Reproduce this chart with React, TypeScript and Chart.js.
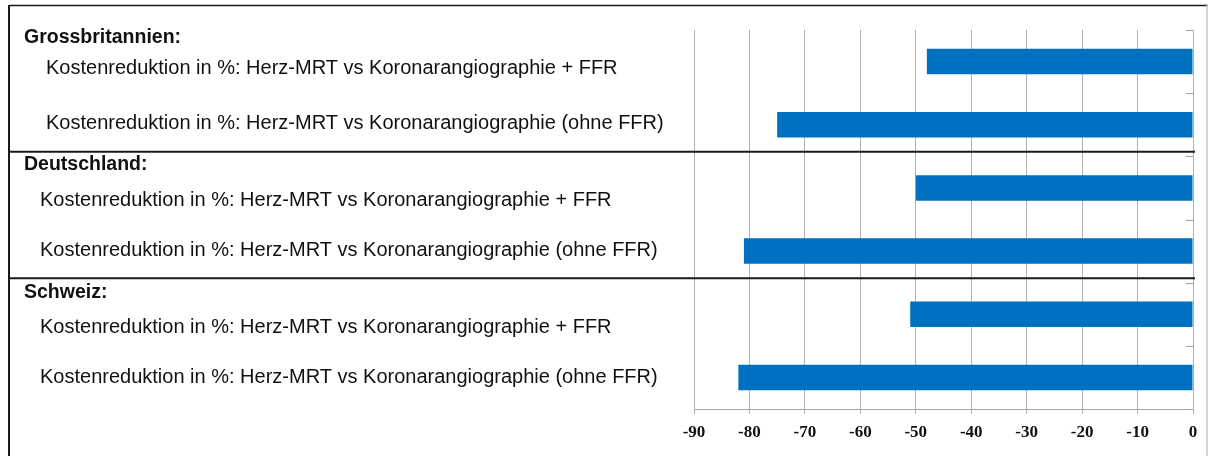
import React, { useEffect, useRef } from 'react';
import { Chart, registerables } from 'chart.js';

Chart.register(...registerables);

// ---- data ----
const groupTitles = ['Grossbritannien:', 'Deutschland:', 'Schweiz:'];
const categories = [
  'Kostenreduktion in %: Herz-MRT vs Koronarangiographie + FFR',
  'Kostenreduktion in %: Herz-MRT vs Koronarangiographie (ohne FFR)',
  'Kostenreduktion in %: Herz-MRT vs Koronarangiographie + FFR',
  'Kostenreduktion in %: Herz-MRT vs Koronarangiographie (ohne FFR)',
  'Kostenreduktion in %: Herz-MRT vs Koronarangiographie + FFR',
  'Kostenreduktion in %: Herz-MRT vs Koronarangiographie (ohne FFR)',
];
const values = [-48, -75, -50, -81, -51, -82];
const xMin = -90;
const xMax = 0;
const xStep = 10;

// ---- styling / layout ----
const W = 1210;
const H = 456;
const BAR_COLOR = '#0070C0';
const GRID_COLOR = '#b0b0b0';
const TEXT_FONT = '"Liberation Sans", Arial, sans-serif';
const TITLE_SIZE = 19.5;
const LABEL_SIZE = 20;
const titleOffsets = [-25.5, -25, -23];
const labelOffsets = [
  [5.5, -2.5],
  [11, -2],
  [12, -2],
];
const labelIndent = [46, 40, 40];

const tablePlugin = {
  id: 'tableLayout',
  afterDraw(chart: any) {
    const ctx = chart.ctx as CanvasRenderingContext2D;
    const yScale = chart.scales.y;
    const area = chart.chartArea;
    const n = categories.length;
    const band = (area.bottom - area.top) / n;
    const line = (x1: number, y1: number, x2: number, y2: number) => {
      ctx.beginPath();
      ctx.moveTo(x1, y1);
      ctx.lineTo(x2, y2);
      ctx.stroke();
    };
    ctx.save();
    // category tick marks on the right (inside)
    ctx.strokeStyle = '#a0a0a0';
    ctx.lineWidth = 1;
    for (let i = 0; i <= n; i++) {
      const yy = Math.round(area.top + i * band) + 0.5;
      line(area.right - 7, yy, area.right, yy);
    }
    // outer frame
    ctx.strokeStyle = '#1a1a1a';
    ctx.lineWidth = 2;
    line(9, 5, 9, H);
    ctx.lineWidth = 1.5;
    line(9, 5.5, W - 2, 5.5);
    ctx.strokeStyle = '#c8c8c8';
    ctx.lineWidth = 1.5;
    line(W - 3, 5, W - 3, H);
    // group dividers
    ctx.strokeStyle = '#1a1a1a';
    ctx.lineWidth = 2;
    for (let g = 1; g < groupTitles.length; g++) {
      const yy = area.top + g * 2 * band - 4.5;
      line(9, yy, area.right + 2, yy);
    }
    // texts
    ctx.fillStyle = '#111111';
    ctx.textAlign = 'left';
    ctx.textBaseline = 'alphabetic';
    for (let g = 0; g < groupTitles.length; g++) {
      const first = yScale.getPixelForValue(g * 2);
      ctx.font = `bold ${TITLE_SIZE}px ${TEXT_FONT}`;
      ctx.fillText(groupTitles[g], 24, first + titleOffsets[g] + TITLE_SIZE * 0.358);
      ctx.font = `${LABEL_SIZE}px ${TEXT_FONT}`;
      for (let k = 0; k < 2; k++) {
        const idx = g * 2 + k;
        const cy = yScale.getPixelForValue(idx) + labelOffsets[g][k];
        ctx.fillText(String(chart.data.labels[idx]), labelIndent[g], cy + LABEL_SIZE * 0.358);
      }
    }
    ctx.restore();
  },
};

export default function App() {
  const canvasRef = useRef<HTMLCanvasElement | null>(null);

  useEffect(() => {
    document.body.style.margin = '0';
    const canvas = canvasRef.current;
    if (!canvas) return;
    const chart = new Chart(canvas, {
      type: 'bar',
      data: {
        labels: categories,
        datasets: [
          {
            data: values,
            backgroundColor: BAR_COLOR,
            borderWidth: 0,
            barPercentage: 0.404,
            categoryPercentage: 1,
          },
        ],
      },
      options: {
        indexAxis: 'y',
        animation: false,
        responsive: false,
        devicePixelRatio: 1,
        layout: { padding: { left: 694, right: 17, top: 30, bottom: 0 } },
        plugins: {
          legend: { display: false },
          tooltip: { enabled: false },
          title: { display: false },
        },
        scales: {
          x: {
            type: 'linear',
            position: 'bottom',
            min: xMin,
            max: xMax,
            ticks: {
              stepSize: xStep,
              padding: 8,
              color: '#111111',
              font: { family: '"Liberation Serif", "Times New Roman", serif', size: 17, weight: 'bold' },
            },
            grid: {
              color: GRID_COLOR,
              lineWidth: 1,
              tickLength: 5,
              drawTicks: true,
            },
            border: { display: true, color: '#a8a8a8', width: 1 },
            afterFit: (scale: any) => {
              scale.height = 47;
            },
          },
          y: {
            type: 'category',
            display: false,
          },
        },
      },
      plugins: [tablePlugin],
    });
    return () => chart.destroy();
  }, []);

  return (
    <div style={{ position: 'absolute', left: 0, top: 0, width: W, height: H, background: '#fff' }}>
      <canvas ref={canvasRef} width={W} height={H} style={{ width: W, height: H, display: 'block' }} />
    </div>
  );
}
